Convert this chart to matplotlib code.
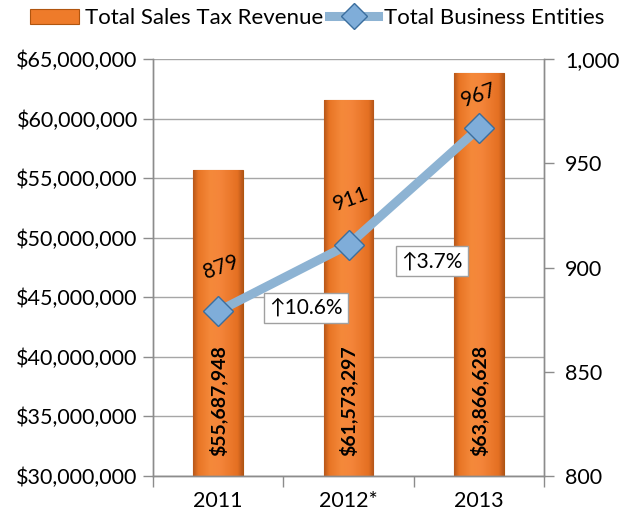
import numpy as np
import matplotlib
matplotlib.use("Agg")
import matplotlib.pyplot as plt
from matplotlib.lines import Line2D
from matplotlib.patches import Patch
from matplotlib.colors import LinearSegmentedColormap
from matplotlib.ticker import FuncFormatter, FixedLocator

plt.rcParams['font.family'] = ['Lato', 'DejaVu Sans']

years = ['2011', '2012*', '2013']
revenue = [55687948, 61573297, 63866628]
entities = [879, 911, 967]

x = np.arange(len(years))
bar_w = 0.38

fig = plt.figure(figsize=(6.22, 5.19), dpi=100)
ax1 = fig.add_axes([0.246, 0.0834, 0.629, 0.8023])
ax2 = ax1.twinx()

grid_c = '#A6A6A6'
spine_c = '#8C8C8C'

# revenue bars with a horizontal shading
bars = ax1.bar(x, revenue, width=bar_w, color='#EE7B2A', edgecolor='#B0550F',
               linewidth=0.8, zorder=2)
shade = LinearSegmentedColormap.from_list(
    'bar', [(0.0, '#B9581A'), (0.1, '#E87525'), (0.35, '#F5893A'), (0.55, '#F4853A'),
            (0.9, '#E57022'), (1.0, '#B5561A')])
grad = np.linspace(0, 1, 64).reshape(1, -1)
for b in bars:
    x0, w, h = b.get_x(), b.get_width(), b.get_height()
    im = ax1.imshow(grad, cmap=shade, aspect='auto', zorder=2.1,
                    extent=(x0, x0 + w, 30e6, h), interpolation='bicubic')
    im.set_clip_path(b)

ax1.set_xlim(-0.5, 2.5)
ax1.set_ylim(30e6, 65e6)
ax1.set_yticks(np.arange(30e6, 65e6 + 1, 5e6))
ax1.yaxis.set_major_formatter(FuncFormatter(lambda v, p: f'${v:,.0f}'))
ax1.yaxis.grid(True, color=grid_c, linewidth=1.0, zorder=0)
ax1.set_axisbelow(True)

ax1.set_xticks(x)
ax1.set_xticklabels(years)
ax1.xaxis.set_minor_locator(FixedLocator([-0.5, 0.5, 1.5, 2.5]))
ax1.tick_params(axis='x', which='major', length=0, pad=11, labelsize=15.5)
ax1.tick_params(axis='x', which='minor', length=8, color=spine_c, width=1)
ax1.tick_params(axis='y', length=7, color=spine_c, width=1, labelsize=15.5, pad=4)

ax1.spines['top'].set_visible(False)
ax2.spines['top'].set_visible(False)
for a in (ax1, ax2):
    for sp in ['left', 'right', 'bottom']:
        a.spines[sp].set_color(spine_c)
        a.spines[sp].set_linewidth(1.0)

# revenue values written inside the bars
for xi, v in zip(x, revenue):
    ax1.annotate(f'${v:,.0f}', xy=(xi, 30e6), xytext=(0, 14), textcoords='offset points',
                 rotation=90, ha='center', va='bottom', fontsize=14, fontweight='bold',
                 color='black', zorder=5)

# business entities line
ax2.plot(x, entities, color='#8DB3D3', linewidth=6.5, solid_capstyle='butt', zorder=3)
ax2.plot(x, entities, linestyle='none', marker='D', markersize=15.5,
         markerfacecolor='#7FADD9', markeredgecolor='#3B6E9E', markeredgewidth=1.0, zorder=4)
ax2.set_ylim(800, 1000)
ax2.set_yticks(np.arange(800, 1001, 50))
ax2.yaxis.set_major_formatter(FuncFormatter(lambda v, p: f'{v:,.0f}'))
ax2.tick_params(axis='y', length=7, color=spine_c, width=1, labelsize=15.5, pad=8)

label_off = [(2, 32), (2, 33), (0, 24)]
for xi, v, off in zip(x, entities, label_off):
    ax2.annotate(f'{v}', xy=(xi, v), xytext=off, textcoords='offset points',
                 rotation=20, ha='center', va='center', fontsize=15, zorder=6)

# year-over-year revenue growth callouts
growth_pos = [(0.67, 880.5), (1.64, 903)]
for i, (gx, gy) in enumerate(growth_pos):
    pct = (revenue[i + 1] / revenue[i] - 1) * 100
    ax2.text(gx, gy, f'\u2191{pct:.1f}%', ha='center', va='center', fontsize=15, zorder=7,
             bbox=dict(boxstyle='square,pad=0.25', facecolor='white', edgecolor='#A0A0A0',
                       linewidth=1.0))

handles = [
    Patch(facecolor='#EE7B2A', edgecolor='#B0550F', linewidth=0.8),
    Line2D([], [], color='#8DB3D3', linewidth=6.5, marker='D', markersize=13,
           markerfacecolor='#7FADD9', markeredgecolor='#3B6E9E'),
]
fig.legend(handles, ['Total Sales Tax Revenue', 'Total Business Entities'],
           loc='center', bbox_to_anchor=(0.51, 0.965), ncol=2, frameon=False,
           fontsize=16, handlelength=2.2, handletextpad=0.25, columnspacing=0.3,
           handleheight=0.7)

fig.savefig('out.png', dpi=100)
